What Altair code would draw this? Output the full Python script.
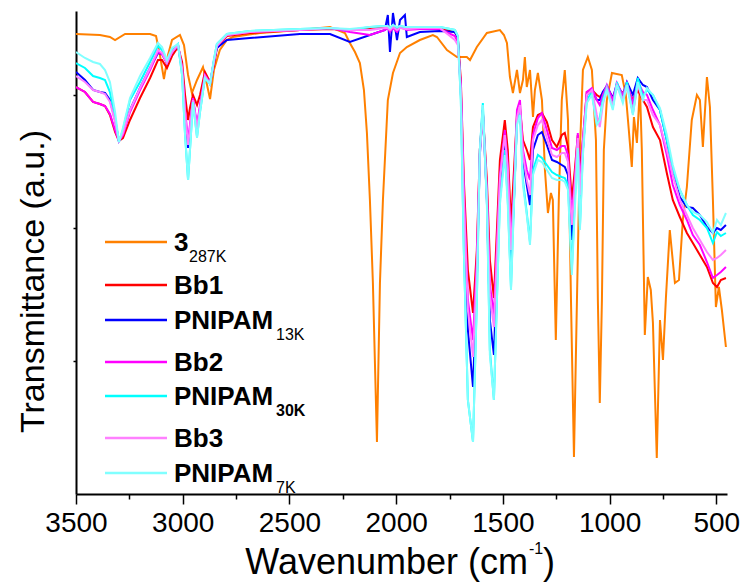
import altair as alt
import pandas as pd

# ---- data (wavenumber in cm-1, transmittance in arbitrary units) ----
wn_3 = [3500, 3388, 3341, 3317, 3270, 3153, 3125, 3107, 3088, 3069, 3050, 3013, 2994, 2975, 2957, 2933, 2905,
        2886, 2872, 2854, 2826, 2793, 2765, 2638, 2451, 2310, 2240, 2217, 2193, 2170, 2151, 2137, 2123, 2109,
        2090, 2076, 2062, 2039, 2015, 1982, 1950, 1889, 1828, 1809, 1762, 1715, 1669, 1654, 1622, 1575, 1514,
        1495, 1481, 1467, 1453, 1434, 1420, 1406, 1397, 1388, 1373, 1359, 1350, 1336, 1317, 1303, 1289, 1275,
        1266, 1252, 1238, 1224, 1210, 1195, 1181, 1167, 1153, 1139, 1125, 1102, 1083, 1064, 1055, 1046, 1036,
        1027, 1013, 989, 943, 924, 910, 896, 886, 872, 858, 849, 835, 821, 807, 797, 779, 764, 750, 736, 718,
        694, 675, 657, 638, 615, 591, 577, 563, 544, 530, 516, 502, 488, 474, 455]
t_3 = [4.60, 4.59, 4.57, 4.54, 4.60, 4.60, 4.58, 4.39, 4.15, 4.39, 4.54, 4.59, 4.49, 4.19, 4.01, 4.14, 4.27,
       4.09, 3.95, 4.24, 4.44, 4.54, 4.57, 4.61, 4.64, 4.67, 4.61, 4.51, 4.42, 4.31, 4.04, 3.61, 2.94, 2.11,
       0.52, 2.11, 2.94, 3.94, 4.21, 4.41, 4.47, 4.54, 4.59, 4.57, 4.44, 4.37, 4.37, 4.34, 4.47, 4.61, 4.64,
       4.59, 4.51, 4.17, 4.01, 4.24, 4.01, 4.14, 4.37, 4.07, 4.24, 3.77, 4.04, 4.21, 3.94, 3.24, 2.81, 3.01,
       2.94, 1.54, 2.94, 3.94, 4.24, 3.74, 1.94, 0.37, 1.94, 3.44, 4.24, 4.37, 4.24, 3.54, 1.94, 0.91, 1.94,
       3.44, 3.94, 4.21, 4.19, 3.99, 3.64, 3.27, 3.77, 3.51, 4.07, 3.44, 1.59, 2.17, 2.04, 1.71, 0.36, 1.74,
       1.34, 1.97, 2.64, 2.11, 2.14, 2.74, 3.07, 3.74, 3.99, 3.94, 3.47, 4.17, 3.87, 2.94, 1.87, 2.07, 1.84, 1.47]

wn_poly = [3500, 3458, 3420, 3388, 3364, 3341, 3317, 3299, 3280, 3247,
           3200, 3153, 3116, 3097, 3074, 3050, 3022, 3003, 2989, 2975,
           2966, 2952, 2933, 2919, 2896, 2872, 2854, 2840, 2793, 2685,
           2451, 2310, 2217, 2123, 2053, 2039, 2029, 2015, 1996, 1982,
           1959, 1950, 1889, 1795, 1725, 1711, 1697, 1683, 1664, 1640,
           1622, 1608, 1594, 1575, 1561, 1542, 1528, 1514, 1491, 1477,
           1462, 1448, 1434, 1420, 1406, 1388, 1373, 1359, 1336, 1317,
           1294, 1270, 1247, 1224, 1210, 1195, 1177, 1163, 1149, 1139,
           1125, 1107, 1083, 1060, 1046, 1032, 1013, 985, 966, 938,
           919, 891, 868, 844, 825, 797, 764, 732, 704, 671,
           638, 610, 577, 544, 516, 497, 479, 455]

t_bb1 = [4.07, 4.02, 3.92, 3.90, 3.88, 3.79, 3.62, 3.53, 3.56, 3.74,
         3.96, 4.16, 4.34, 4.34, 4.26, 4.38, 4.47, 4.32, 3.99, 3.74,
         3.86, 3.99, 3.89, 3.99, 4.22, 4.12, 4.28, 4.46, 4.58, 4.61,
         4.64, 4.65, 4.64, 4.66, 4.67, 4.66, 4.67, 4.67, 4.66, 4.67,
         4.66, 4.66, 4.66, 4.66, 4.62, 4.56, 4.14, 3.14, 2.24, 1.81,
         2.44, 3.44, 3.82, 3.14, 2.34, 1.96, 2.64, 3.34, 3.74, 3.44,
         2.69, 3.24, 3.79, 3.86, 3.54, 3.44, 3.34, 3.67, 3.79, 3.81,
         3.72, 3.54, 3.47, 3.59, 3.61, 3.47, 2.94, 3.24, 3.59, 3.24,
         3.54, 4.02, 4.04, 3.99, 3.97, 4.01, 4.06, 3.96, 4.06, 4.01,
         4.06, 3.94, 4.04, 3.94, 3.87, 3.67, 3.54, 3.21, 2.94, 2.77,
         2.61, 2.51, 2.39, 2.27, 2.11, 2.07, 2.14, 2.16]

t_pnipam13k = [4.22, 4.14, 4.04, 4.02, 4.01, 3.94, 3.74, 3.53, 3.61, 3.84,
               4.06, 4.26, 4.41, 4.40, 4.31, 4.42, 4.49, 4.24, 3.79, 3.46,
               3.64, 3.94, 3.66, 3.86, 4.18, 4.10, 4.32, 4.46, 4.54, 4.56,
               4.60, 4.60, 4.52, 4.59, 4.64, 4.79, 4.42, 4.81, 4.54, 4.74,
               4.79, 4.57, 4.62, 4.63, 4.62, 4.56, 4.04, 2.84, 1.64, 1.07,
               2.14, 3.39, 3.84, 2.94, 1.74, 1.39, 2.24, 3.04, 3.54, 3.19,
               2.34, 2.94, 3.74, 3.84, 3.34, 3.09, 2.89, 3.44, 3.59, 3.62,
               3.49, 3.34, 3.32, 3.29, 3.27, 3.19, 2.54, 2.99, 3.54, 2.94,
               3.44, 3.99, 4.04, 3.94, 3.94, 4.02, 4.08, 3.96, 4.10, 3.99,
               4.12, 3.99, 4.16, 4.09, 4.07, 3.94, 3.84, 3.54, 3.21, 2.97,
               2.87, 2.86, 2.79, 2.67, 2.61, 2.66, 2.64, 2.69]

t_bb2 = [4.07, 4.02, 3.92, 3.90, 3.88, 3.80, 3.64, 3.53, 3.59, 3.82,
         4.04, 4.24, 4.42, 4.40, 4.31, 4.42, 4.49, 4.26, 3.84, 3.54,
         3.69, 3.96, 3.69, 3.89, 4.19, 4.11, 4.32, 4.48, 4.59, 4.62,
         4.64, 4.66, 4.62, 4.59, 4.64, 4.66, 4.62, 4.66, 4.62, 4.67,
         4.65, 4.64, 4.65, 4.65, 4.58, 4.52, 4.09, 3.04, 1.94, 1.54,
         2.34, 3.44, 3.84, 3.04, 2.09, 1.79, 2.49, 3.19, 3.64, 3.29,
         2.49, 3.04, 3.84, 3.94, 3.44, 3.24, 3.14, 3.59, 3.76, 3.81,
         3.64, 3.46, 3.44, 3.48, 3.48, 3.39, 2.79, 3.14, 3.61, 3.09,
         3.54, 4.02, 4.06, 3.94, 3.89, 3.99, 4.09, 3.94, 4.11, 3.99,
         4.11, 3.91, 4.12, 4.02, 3.99, 3.84, 3.69, 3.39, 3.09, 2.89,
         2.74, 2.59, 2.49, 2.32, 2.16, 2.19, 2.22, 2.27]

t_pnipam30k = [4.31, 4.26, 4.18, 4.16, 4.14, 4.02, 3.76, 3.52, 3.64, 3.94,
               4.12, 4.32, 4.48, 4.44, 4.32, 4.44, 4.50, 4.19, 3.59, 3.14,
               3.44, 3.92, 3.57, 3.82, 4.16, 4.10, 4.34, 4.50, 4.60, 4.63,
               4.65, 4.66, 4.64, 4.67, 4.68, 4.67, 4.66, 4.69, 4.66, 4.68,
               4.67, 4.66, 4.67, 4.67, 4.64, 4.58, 3.94, 2.44, 0.94, 0.52,
               1.94, 3.44, 3.91, 2.94, 1.44, 0.94, 1.94, 2.94, 3.44, 2.94,
               2.06, 2.94, 3.74, 3.84, 3.14, 2.81, 2.52, 3.24, 3.39, 3.36,
               3.29, 3.22, 3.19, 3.17, 3.16, 3.09, 2.24, 2.94, 3.51, 2.67,
               3.44, 3.94, 4.02, 3.71, 3.76, 3.94, 4.07, 3.87, 4.12, 3.94,
               4.12, 3.81, 4.16, 3.97, 4.04, 3.99, 3.84, 3.54, 3.24, 3.04,
               2.89, 2.79, 2.74, 2.66, 2.51, 2.62, 2.58, 2.61]

t_bb3 = [4.18, 4.12, 4.04, 4.02, 4.00, 3.92, 3.72, 3.53, 3.61, 3.84,
         4.06, 4.26, 4.44, 4.41, 4.31, 4.42, 4.49, 4.26, 3.82, 3.49,
         3.66, 3.94, 3.66, 3.86, 4.18, 4.10, 4.32, 4.48, 4.59, 4.62,
         4.64, 4.66, 4.64, 4.64, 4.66, 4.66, 4.64, 4.67, 4.64, 4.66,
         4.65, 4.65, 4.66, 4.66, 4.54, 4.49, 4.04, 2.94, 1.84, 1.37,
         2.24, 3.39, 3.82, 2.99, 1.99, 1.67, 2.39, 3.14, 3.59, 3.24,
         2.44, 2.99, 3.76, 3.89, 3.39, 3.14, 2.99, 3.54, 3.69, 3.74,
         3.56, 3.39, 3.37, 3.41, 3.41, 3.32, 2.69, 3.09, 3.56, 2.99,
         3.49, 3.99, 4.04, 3.79, 3.67, 3.89, 4.06, 3.87, 4.09, 3.94,
         4.09, 3.81, 4.09, 3.94, 3.94, 3.79, 3.69, 3.44, 3.19, 2.94,
         2.79, 2.66, 2.54, 2.42, 2.34, 2.36, 2.39, 2.44]

t_pnipam7k = [4.42, 4.36, 4.32, 4.30, 4.24, 4.12, 3.82, 3.52, 3.66, 3.96,
              4.18, 4.36, 4.51, 4.47, 4.34, 4.46, 4.50, 4.19, 3.59, 3.14,
              3.44, 3.92, 3.56, 3.82, 4.16, 4.10, 4.34, 4.50, 4.60, 4.63,
              4.65, 4.66, 4.65, 4.67, 4.68, 4.68, 4.66, 4.69, 4.67, 4.68,
              4.67, 4.67, 4.67, 4.67, 4.64, 4.58, 3.94, 2.44, 0.94, 0.52,
              1.94, 3.44, 3.89, 2.89, 1.39, 0.94, 1.94, 2.89, 3.39, 2.89,
              2.04, 2.89, 3.69, 3.79, 3.09, 2.79, 2.49, 3.19, 3.34, 3.32,
              3.24, 3.16, 3.14, 3.14, 3.12, 3.04, 2.19, 2.84, 3.46, 2.64,
              3.39, 3.91, 3.99, 3.69, 3.74, 3.91, 4.04, 3.84, 4.09, 3.91,
              4.09, 3.79, 4.12, 3.94, 4.06, 3.99, 3.86, 3.59, 3.29, 3.04,
              2.89, 2.82, 2.79, 2.72, 2.61, 2.74, 2.69, 2.81]

series_main = ["3", "Bb1", "PNIPAM", "Bb2", "PNIPAM", "Bb3", "PNIPAM"]
series_sub = ["287K", "", "13K", "", "30K", "", "7K"]
sub_bold = [False, False, False, False, True, False, False]
colors = ["#FF8000", "#FF0000", "#0000FF", "#FF00FF", "#00FFFF", "#FF80FF", "#80FFFF"]

series_wn = [wn_3, wn_poly, wn_poly, wn_poly, wn_poly, wn_poly, wn_poly]
series_t = [t_3, t_bb1, t_pnipam13k, t_bb2, t_pnipam30k, t_bb3, t_pnipam7k]

# ---- layout / style constants ----
W, H = 651, 483
FONT = "Liberation Sans"
legend_line_y = [231, 274, 309, 351, 385, 427, 462]

x_scale = alt.Scale(domain=[450, 3500], reverse=True, nice=False, zero=False)
y_scale = alt.Scale(domain=[0, 4.83], nice=False, zero=False)

x_axis = alt.Axis(
    values=list(range(500, 3501, 250)),
    labelExpr="datum.value % 500 === 0 ? datum.label : ''",
    format="d",
    tickSize={"condition": {"test": "datum.value % 500 === 0", "value": 10}, "value": 5},
    tickWidth=1.5, tickColor="black",
    domainWidth=2, domainColor="black",
    labelFont=FONT, labelFontSize=28, labelColor="black", labelPadding=5,
    labelFlush=False, labelOverlap=False,
    grid=False, title=None,
)
y_axis = alt.Axis(
    values=[1.33, 2.66, 3.99], labels=False, tickSize=3, tickWidth=1.5, tickColor="black",
    domainWidth=2, domainColor="black", grid=False,
    title="Transmittance (a.u.)", titleFont=FONT, titleFontSize=34, titleFontWeight="normal",
    titleColor="black", titleX=-33, titleY=270, titleAngle=270, titleAlign="center",
    titleBaseline="alphabetic",
)

x_enc = alt.X("wn:Q", scale=x_scale, axis=x_axis)
y_enc = alt.Y("T:Q", scale=y_scale, axis=y_axis)

layers = []
for i, (wn, tv) in enumerate(zip(series_wn, series_t)):
    df = pd.DataFrame({"wn": wn, "T": tv})
    layers.append(
        alt.Chart(df).mark_line(color=colors[i], strokeWidth=2, clip=True).encode(x=x_enc, y=y_enc)
    )

one = pd.DataFrame({"k": [0]})

# legend
for i in range(7):
    ly = legend_line_y[i]
    layers.append(alt.Chart(one).mark_rule(color=colors[i], strokeWidth=2.5).encode(
        x=alt.value(29), x2=alt.value(91), y=alt.value(ly)))
    layers.append(alt.Chart(one).mark_text(
        text=series_main[i], font=FONT, fontSize=26, fontWeight="bold", align="left",
        baseline="alphabetic", color="black").encode(x=alt.value(98), y=alt.value(ly + 9)))
    if series_sub[i]:
        sx = 113 if series_main[i] == "3" else 200
        layers.append(alt.Chart(one).mark_text(
            text=series_sub[i], font=FONT, fontSize=16,
            fontWeight="bold" if sub_bold[i] else "normal", align="left",
            baseline="alphabetic", color="black").encode(x=alt.value(sx), y=alt.value(ly + 20)))

# x-axis title with superscript
layers.append(alt.Chart(one).mark_text(
    text="Wavenumber (cm", font=FONT, fontSize=36, align="right", baseline="alphabetic",
    color="black").encode(x=alt.value(452), y=alt.value(563)))
layers.append(alt.Chart(one).mark_text(
    text="-1", font=FONT, fontSize=16, align="left", baseline="alphabetic",
    color="black").encode(x=alt.value(453), y=alt.value(543)))
layers.append(alt.Chart(one).mark_text(
    text=")", font=FONT, fontSize=36, align="left", baseline="alphabetic",
    color="black").encode(x=alt.value(467), y=alt.value(563)))

chart = alt.layer(*layers).properties(
    width=W, height=H,
    autosize=alt.AutoSizeParams(type="none"),
    padding={"left": 76, "top": 11, "right": 14, "bottom": 88},
    background="white",
).configure_view(strokeWidth=0)

chart.save("out.html", embed_options={"renderer": "svg", "actions": False})
